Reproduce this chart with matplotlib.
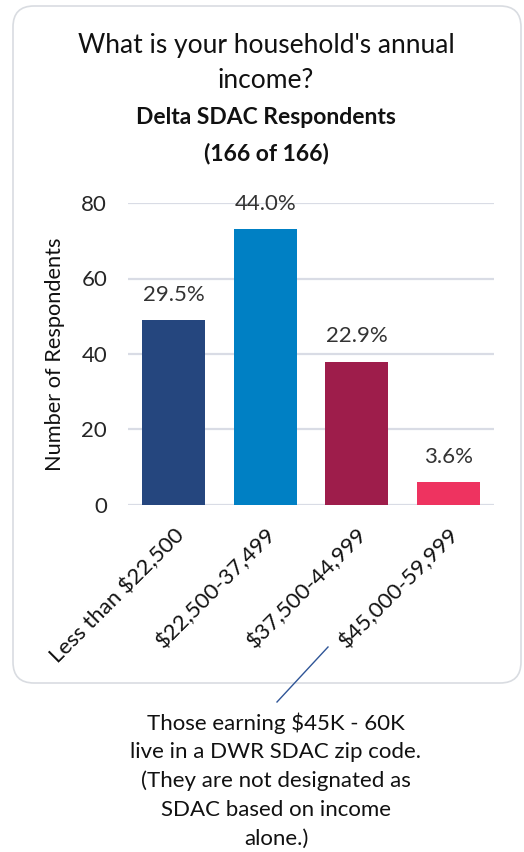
import matplotlib
matplotlib.use("Agg")
import matplotlib.pyplot as plt
from matplotlib.patches import FancyBboxPatch
from matplotlib.lines import Line2D

plt.rcParams['font.family'] = ['Lato', 'DejaVu Sans']

categories = ["Less than $22,500", "$22,500-37,499", "$37,500-44,999", "$45,000-59,999"]
counts = [49, 73, 38, 6]
percent_labels = ["29.5%", "44.0%", "22.9%", "3.6%"]
bar_colors = ["#25467E", "#0080C4", "#9E1D4B", "#EE3360"]
y_ticks = [0, 20, 40, 60, 80]

title_lines = ["What is your household's annual", "income?"]
subtitle_lines = ["Delta SDAC Respondents", "(166 of 166)"]
note_lines = ["Those earning $45K - 60K", "live in a DWR SDAC zip code.",
              "(They are not designated as", "SDAC based on income", "alone.)"]

W, H = 524, 852
fig = plt.figure(figsize=(W / 100, H / 100), dpi=100)
fig.patch.set_facecolor("white")

def fx(px):
    return px / W

def fy(py):
    return 1 - py / H

# rounded card behind the chart
card = FancyBboxPatch((fx(13), fy(683)), fx(508), fy(6) - fy(683),
                      boxstyle="round,pad=0,rounding_size=0.04",
                      transform=fig.transFigure, facecolor="white",
                      edgecolor="#D9DCE1", linewidth=1.2, mutation_aspect=W / H,
                      zorder=-10)
fig.patches.append(card)

# titles
for txt, y in zip(title_lines, [45, 81]):
    fig.text(fx(266), fy(y), txt, ha="center", va="center", fontsize=19, color="#111111")
for txt, y in zip(subtitle_lines, [117, 153]):
    fig.text(fx(266), fy(y), txt, ha="center", va="center", fontsize=16.5,
             fontweight="bold", color="#111111")

ax = fig.add_axes([fx(128), fy(505), fx(494) - fx(128), fy(203) - fy(505)])
ax.patch.set_alpha(0)
x = list(range(len(categories)))
bars = ax.bar(x, counts, width=0.69, color=bar_colors, zorder=3)
ax.set_xlim(-0.5, len(categories) - 0.5)
ax.set_ylim(0, 80)
ax.set_yticks(y_ticks)
ax.set_yticklabels([str(t) for t in y_ticks], fontsize=16, color="#262626")
ax.yaxis.grid(True, color="#D9DCE5", linewidth=1.6, zorder=0)
ax.set_axisbelow(True)
for s in ax.spines.values():
    s.set_visible(False)
ax.tick_params(axis="both", length=0)
ax.tick_params(axis="y", pad=15)
ax.set_xticks(x)
ax.set_xticklabels(categories, rotation=45, ha="right", va="top",
                   rotation_mode="anchor", fontsize=16, color="#111111")
ax.tick_params(axis="x", pad=14)
ax.set_ylabel("Number of Respondents", fontsize=15.7, color="#111111", labelpad=12)

for rect, lab in zip(bars, percent_labels):
    ax.annotate(lab, (rect.get_x() + rect.get_width() / 2, rect.get_height()),
                xytext=(0, 11), textcoords="offset points", ha="center", va="bottom",
                fontsize=16, color="#333333", annotation_clip=False)

# callout line and note
fig.add_artist(Line2D([fx(328), fx(277)], [fy(647), fy(702)], transform=fig.transFigure,
                      color="#2F5597", linewidth=1.0))
for i, txt in enumerate(note_lines):
    fig.text(fx(276), fy(723 + 29 * i), txt, ha="center", va="center",
             fontsize=16, color="#111111")

fig.savefig("out.png", dpi=100, facecolor="white")
